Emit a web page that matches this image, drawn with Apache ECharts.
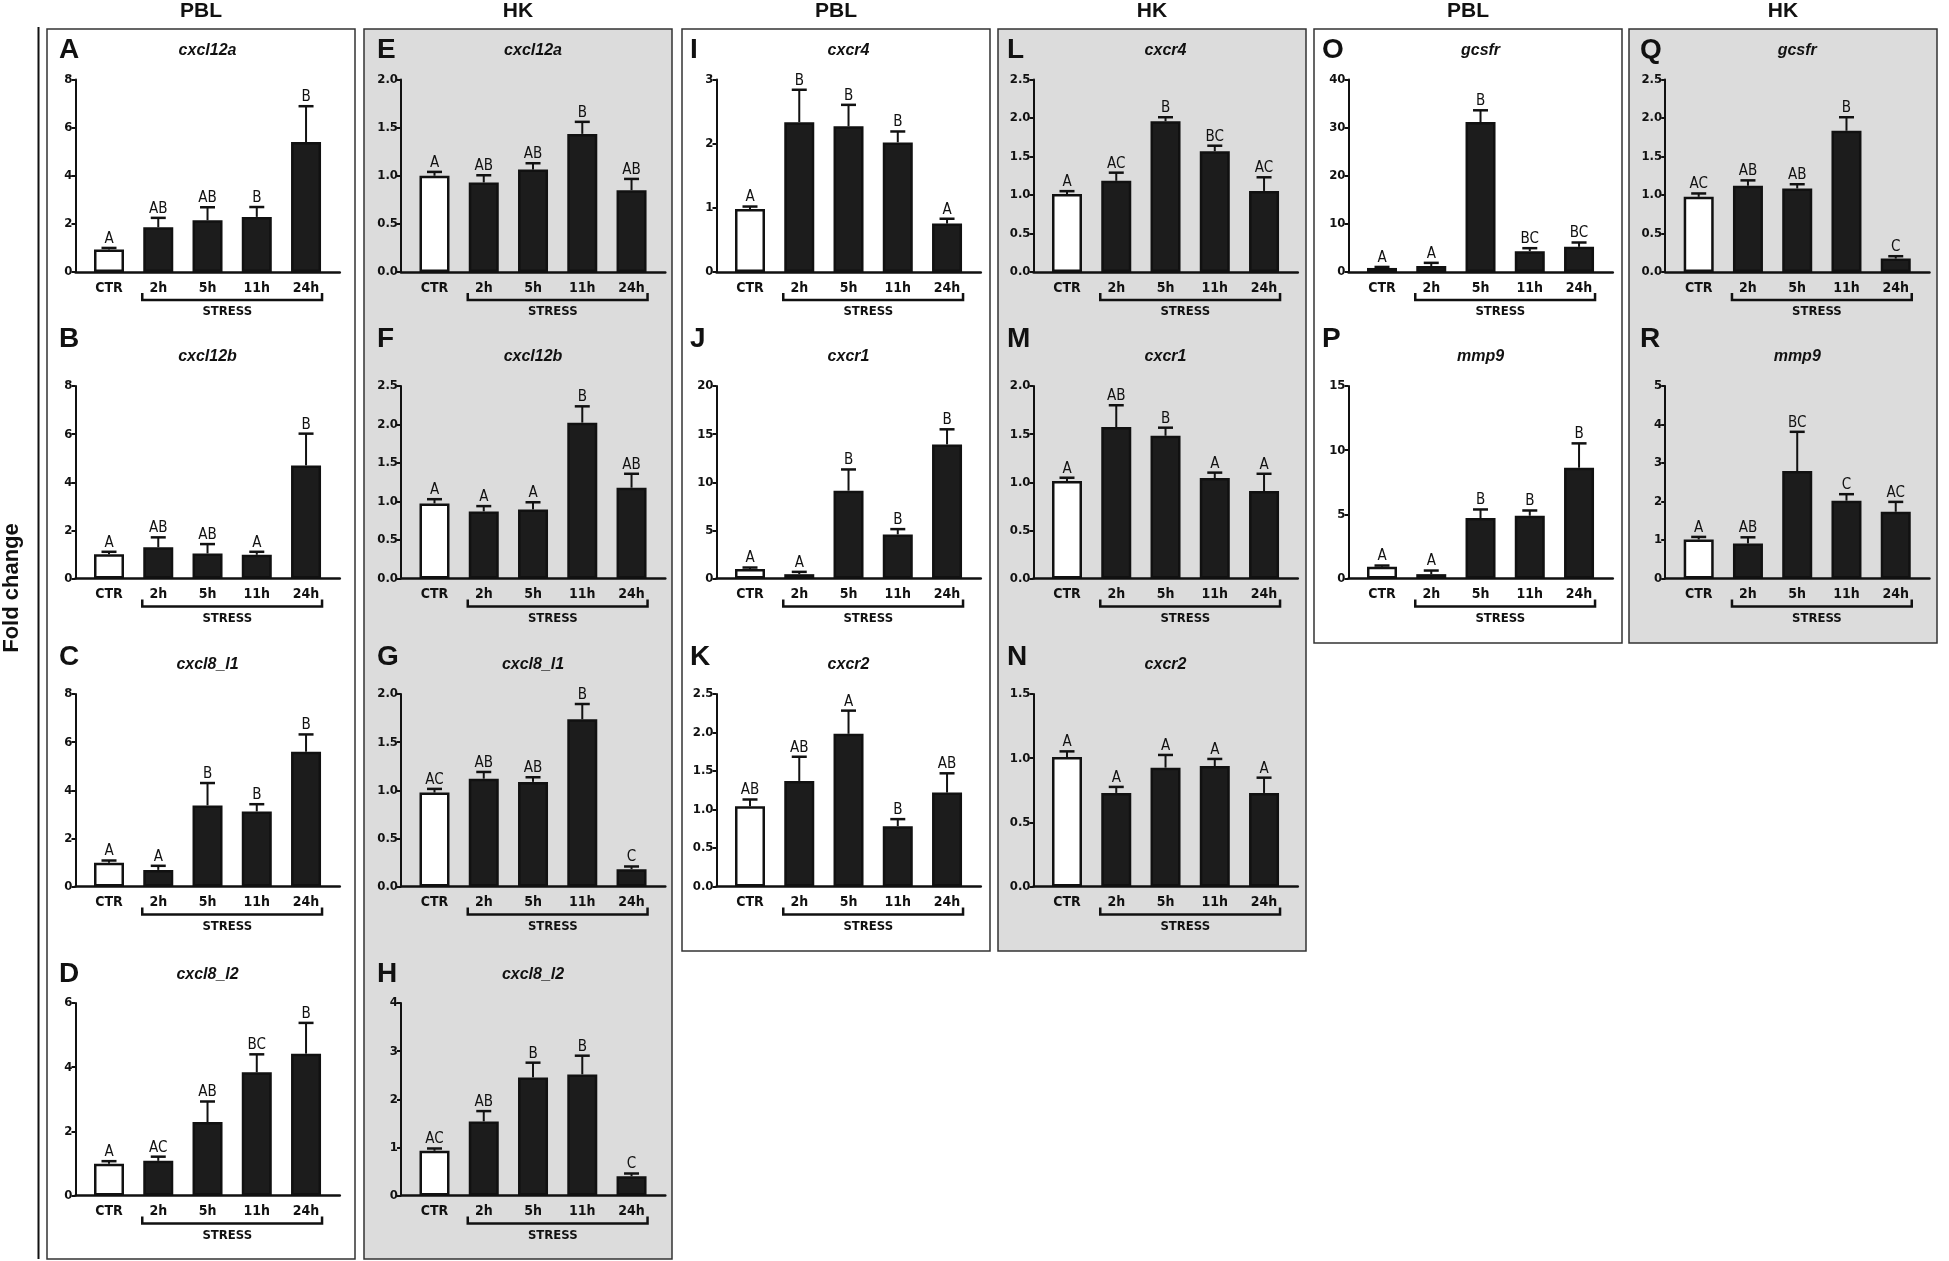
<!DOCTYPE html>
<html>
<head>
<meta charset="utf-8">
<script src="https://cdn.jsdelivr.net/npm/echarts@6/dist/echarts.min.js"></script>
<style>
  html, body { margin: 0; padding: 0; background: #fff; }
  #chart { width: 1949px; height: 1261px; }
</style>
</head>
<body>
<div id="chart"></div>
<script>
// ---- data ----
const categories = ['CTR', '2h', '5h', '11h', '24h'];
const columnHeaders = ['PBL', 'HK', 'PBL', 'HK', 'PBL', 'HK'];

const panelIds = ['A','B','C','D','E','F','G','H','I','J','K','L','M','N','O','P','Q','R'];
const genes = ['cxcl12a','cxcl12b','cxcl8_l1','cxcl8_l2',
               'cxcl12a','cxcl12b','cxcl8_l1','cxcl8_l2',
               'cxcr4','cxcr1','cxcr2',
               'cxcr4','cxcr1','cxcr2',
               'gcsfr','mmp9',
               'gcsfr','mmp9'];
const yMax  = [8, 8, 8, 6,   2, 2.5, 2, 4,     3, 20, 2.5,    2.5, 2, 1.5,   40, 15,  2.5, 5];
const yStep = [2, 2, 2, 2,   0.5, 0.5, 0.5, 1, 1, 5, 0.5,     0.5, 0.5, 0.5, 10, 5,   0.5, 1];

// mean fold change, SEM, significance letters
const meanA = [0.93, 1.86, 2.15, 2.29, 5.40];
const semA  = [0.07, 0.39, 0.54, 0.41, 1.49];
const sigA  = ['A', 'AB', 'AB', 'B', 'B'];

const meanB = [1.01, 1.30, 1.04, 0.985, 4.70];
const semB  = [0.10, 0.41, 0.39, 0.125, 1.32];
const sigB  = ['A', 'AB', 'AB', 'A', 'B'];

const meanC = [0.99, 0.69, 3.37, 3.12, 5.60];
const semC  = [0.09, 0.17, 0.93, 0.30, 0.72];
const sigC  = ['A', 'A', 'B', 'B', 'B'];

const meanD = [0.99, 1.08, 2.29, 3.84, 4.42];
const semD  = [0.08, 0.13, 0.64, 0.56, 0.96];
const sigD  = ['A', 'AC', 'AB', 'BC', 'B'];

const meanE = [1.00, 0.93, 1.064, 1.435, 0.85];
const semE  = [0.04, 0.075, 0.066, 0.125, 0.117];
const sigE  = ['A', 'AB', 'AB', 'B', 'AB'];

const meanF = [0.975, 0.871, 0.897, 2.024, 1.179];
const semF  = [0.055, 0.069, 0.093, 0.212, 0.181];
const sigF  = ['A', 'A', 'A', 'B', 'AB'];

const meanG = [0.976, 1.12, 1.087, 1.737, 0.18];
const semG  = [0.038, 0.07, 0.048, 0.159, 0.028];
const sigG  = ['AC', 'AB', 'AB', 'B', 'C'];

const meanH = [0.929, 1.54, 2.454, 2.516, 0.40];
const semH  = [0.048, 0.214, 0.306, 0.389, 0.057];
const sigH  = ['AC', 'AB', 'B', 'B', 'C'];

const meanI = [0.98, 2.335, 2.27, 2.02, 0.754];
const semI  = [0.04, 0.505, 0.335, 0.17, 0.076];
const sigI  = ['A', 'B', 'B', 'B', 'A'];

const meanJ = [1.00, 0.45, 9.12, 4.58, 13.93];
const semJ  = [0.14, 0.24, 2.21, 0.55, 1.57];
const sigJ  = ['A', 'A', 'B', 'B', 'B'];

const meanK = [1.043, 1.371, 1.983, 0.784, 1.22];
const semK  = [0.087, 0.314, 0.301, 0.091, 0.25];
const sigK  = ['AB', 'AB', 'A', 'B', 'AB'];

const meanL = [1.014, 1.184, 1.958, 1.569, 1.053];
const semL  = [0.036, 0.106, 0.052, 0.071, 0.177];
const sigL  = ['A', 'AC', 'B', 'BC', 'AC'];

const meanM = [1.012, 1.574, 1.483, 1.043, 0.908];
const semM  = [0.035, 0.226, 0.084, 0.057, 0.18];
const sigM  = ['A', 'AB', 'B', 'A', 'A'];

const meanN = [1.009, 0.729, 0.926, 0.939, 0.729];
const semN  = [0.044, 0.047, 0.099, 0.055, 0.119];
const sigN  = ['A', 'A', 'A', 'A', 'A'];

const meanO = [0.84, 1.25, 31.15, 4.32, 5.23];
const semO  = [0.21, 0.65, 2.45, 0.63, 0.90];
const sigO  = ['A', 'A', 'B', 'BC', 'BC'];

const meanP = [0.91, 0.34, 4.71, 4.89, 8.63];
const semP  = [0.10, 0.28, 0.67, 0.41, 1.90];
const sigP  = ['A', 'A', 'B', 'B', 'B'];

const meanQ = [0.976, 1.12, 1.085, 1.834, 0.174];
const semQ  = [0.044, 0.07, 0.055, 0.176, 0.031];
const sigQ  = ['AC', 'AB', 'AB', 'B', 'C'];

const meanR = [1.014, 0.91, 2.79, 2.02, 1.733];
const semR  = [0.066, 0.16, 1.02, 0.17, 0.257];
const sigR  = ['A', 'AB', 'BC', 'C', 'AC'];

const means = [meanA, meanB, meanC, meanD, meanE, meanF, meanG, meanH, meanI,
               meanJ, meanK, meanL, meanM, meanN, meanO, meanP, meanQ, meanR];
const sems  = [semA, semB, semC, semD, semE, semF, semG, semH, semI,
               semJ, semK, semL, semM, semN, semO, semP, semQ, semR];
const sigs  = [sigA, sigB, sigC, sigD, sigE, sigF, sigG, sigH, sigI,
               sigJ, sigK, sigL, sigM, sigN, sigO, sigP, sigQ, sigR];

// ---- layout ----
const panelCol = [0,0,0,0, 1,1,1,1, 2,2,2, 3,3,3, 4,4, 5,5];
const panelRow = [0,1,2,3, 0,1,2,3, 0,1,2, 0,1,2, 0,1, 0,1];
const boxLeft = [47, 364, 682, 998, 1314, 1629];
const boxWidth = 308;
const boxTop = 29;
const boxBottom = [1259, 1259, 951, 951, 643, 643];
const ctrX = [109, 434.5, 750, 1067, 1382, 1698.7];
const zeroY = [272, 578.5, 886.5, 1195.5];
const letterX = [59, 377, 690, 1007, 1322, 1640];
const letterY = [50, 339, 657, 974];
const titleY = [51, 357, 665, 975];
const plotH = 192.5;
const xMin = -0.68, xMax = 4.685, unit = 49.26;

const condensed = "'Liberation Sans Narrow', 'DejaVu Sans Condensed', 'Arial Narrow', sans-serif";
const plain = "'Liberation Sans', Arial, sans-serif";
const ink = '#111';

const chart = echarts.init(document.getElementById('chart'));

const grids = [], xAxes = [], yAxes = [], series = [];
panelIds.forEach((id, i) => {
  const c = panelCol[i], r = panelRow[i];
  grids.push({
    left: ctrX[c] + xMin * unit,
    top: zeroY[r] - plotH,
    width: (xMax - xMin) * unit,
    height: plotH
  });
  xAxes.push({
    gridIndex: i, type: 'value', min: xMin, max: xMax,
    axisLine: { show: true, onZero: false, lineStyle: { color: ink, width: 2.5 } },
    axisTick: { show: false },
    splitLine: { show: false },
    axisLabel: {
      customValues: [0, 1, 2, 3, 4],
      formatter: v => categories[Math.round(v)],
      margin: 9, color: ink, fontSize: 14, fontWeight: 'bold', fontFamily: condensed
    }
  });
  yAxes.push({
    gridIndex: i, type: 'value', min: 0, max: yMax[i], interval: yStep[i],
    axisLine: { show: true, onZero: false, lineStyle: { color: ink, width: 2 } },
    axisTick: { show: true, length: 4, lineStyle: { color: ink, width: 2 } },
    splitLine: { show: false },
    axisLabel: {
      formatter: v => (yStep[i] < 1 ? v.toFixed(1) : String(v)),
      margin: 3, color: ink, fontSize: 13, fontWeight: 'bold', fontFamily: condensed
    }
  });
  series.push({
    type: 'bar', xAxisIndex: i, yAxisIndex: i, barWidth: 30,
    data: means[i].map((v, k) => ({
      value: [k, v],
      itemStyle: { color: k === 0 ? '#ffffff' : '#1c1c1c' }
    })),
    itemStyle: { borderColor: ink, borderWidth: 2.5 }
  });
  series.push({
    type: 'custom', xAxisIndex: i, yAxisIndex: i, z: 3,
    data: means[i].map((v, k) => [k, v, v + sems[i][k]]),
    renderItem: (params, api) => {
      const p0 = api.coord([api.value(0), api.value(1)]);
      const p1 = api.coord([api.value(0), api.value(2)]);
      return {
        type: 'group',
        children: [
          { type: 'line', shape: { x1: p0[0], y1: p0[1], x2: p1[0], y2: p1[1] },
            style: { stroke: ink, lineWidth: 2 } },
          { type: 'line', shape: { x1: p1[0] - 7.5, y1: p1[1], x2: p1[0] + 7.5, y2: p1[1] },
            style: { stroke: ink, lineWidth: 2.5 } },
          { type: 'text', x: p1[0], y: p1[1] - 1.5,
            style: { text: sigs[i][params.dataIndex], textAlign: 'center', textVerticalAlign: 'bottom',
                     font: '15px ' + condensed, fill: ink } }
        ]
      };
    }
  });
});

chart.setOption({
  animation: false,
  backgroundColor: '#ffffff',
  grid: grids, xAxis: xAxes, yAxis: yAxes, series: series
});

// ---- decorations: boxes, headers, panel letters, gene names, STRESS brackets ----
const graphics = [];
columnHeaders.forEach((h, c) => {
  graphics.push({
    type: 'rect', z: -100, silent: true,
    shape: { x: boxLeft[c], y: boxTop, width: boxWidth, height: boxBottom[c] - boxTop },
    style: { fill: c % 2 === 1 ? '#dcdcdc' : '#ffffff', stroke: '#333', lineWidth: 1.5 }
  });
  graphics.push({
    type: 'text', x: boxLeft[c] + boxWidth / 2, y: 11.5,
    style: { text: h, textAlign: 'center', textVerticalAlign: 'middle',
             font: 'bold 21px ' + plain, fill: ink }
  });
});
graphics.push({
  type: 'line', shape: { x1: 38.5, y1: 27, x2: 38.5, y2: 1259 },
  style: { stroke: ink, lineWidth: 2 }
});
graphics.push({
  type: 'text', x: 12, y: 588, rotation: Math.PI / 2,
  style: { text: 'Fold change', textAlign: 'center', textVerticalAlign: 'middle',
           font: 'bold 22px ' + plain, fill: ink }
});

panelIds.forEach((id, i) => {
  const c = panelCol[i], r = panelRow[i];
  const f = { gridIndex: i };
  const mid = chart.convertToPixel(f, [2, 0]);
  const left = chart.convertToPixel(f, [1, 0]);
  const right = chart.convertToPixel(f, [4, 0]);
  const stressX = chart.convertToPixel(f, [2.4, 0])[0];
  const y0 = left[1];
  graphics.push({
    type: 'text', x: letterX[c], y: letterY[r],
    style: { text: id, textAlign: 'left', textVerticalAlign: 'middle',
             font: 'bold 28px ' + plain, fill: ink }
  });
  graphics.push({
    type: 'text', x: mid[0], y: titleY[r],
    style: { text: genes[i], textAlign: 'center', textVerticalAlign: 'middle',
             font: 'italic bold 16px ' + plain, fill: ink }
  });
  graphics.push({
    type: 'polyline',
    shape: { points: [[left[0] - 16, y0 + 21], [left[0] - 16, y0 + 28],
                      [right[0] + 16, y0 + 28], [right[0] + 16, y0 + 21]] },
    style: { stroke: ink, lineWidth: 2.5, fill: null }
  });
  graphics.push({
    type: 'text', x: stressX, y: y0 + 40,
    style: { text: 'STRESS', textAlign: 'center', textVerticalAlign: 'middle',
             font: 'bold 13px ' + condensed, fill: ink }
  });
});

chart.setOption({ graphic: graphics });
</script>
</body>
</html>
